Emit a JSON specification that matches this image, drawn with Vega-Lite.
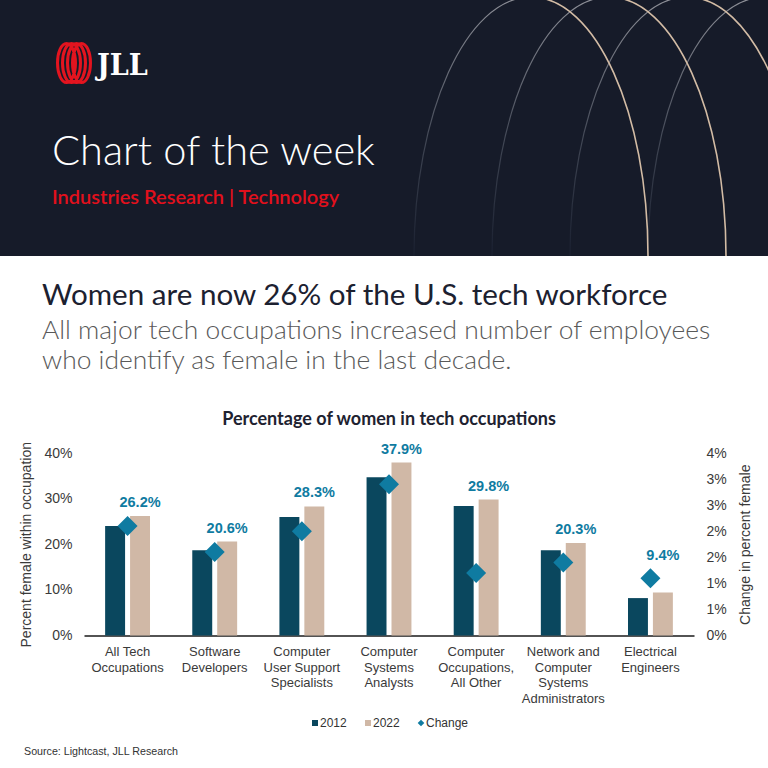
{
  "$schema": "https://vega.github.io/schema/vega-lite/v6.json",
  "padding": 0,
  "background": "#ffffff",
  "spacing": 0,
  "center": true,
  "bounds": "flush",
  "resolve": {"scale": {"color": "independent"}, "legend": {"color": "independent"}},
  "config": {
    "font": "Liberation Sans",
    "view": {"stroke": null},
    "axis": {
      "grid": false,
      "ticks": false,
      "tickSize": 0,
      "domain": false,
      "labelFont": "Liberation Sans",
      "labelFontSize": 14,
      "labelColor": "#3a3a3a",
      "titleFont": "Liberation Sans",
      "titleFontSize": 14,
      "titleFontWeight": "normal",
      "titleColor": "#3a3a3a"
    },
    "legend": {
      "layout": {"bottom": {"anchor": "middle"}}
    }
  },
  "vconcat": [
    {
      "width": 778,
      "height": 256,
      "view": {"fill": "#161b29", "stroke": null},
      "title": {
        "text": "Chart of the week",
        "subtitle": "Industries Research | Technology",
        "orient": "top",
        "anchor": "start",
        "frame": "group",
        "offset": -208,
        "dx": 52,
        "font": "Lato",
        "fontSize": 41.6,
        "fontWeight": 300,
        "color": "#ffffff",
        "subtitleFont": "Lato",
        "subtitleFontSize": 20,
        "subtitleFontWeight": 600,
        "subtitleColor": "#e2101c",
        "subtitlePadding": 14
      },
      "data": {"values": [{"brand": "JLL"}]},
      "layer": [
        {
          "mark": {
            "type": "point",
            "shape": "M25,128 A117,259 0 0 1 142,-131 M103,128 A117,259 0 0 1 220,-131 M181,128 A117,259 0 0 1 298,-131 M259,128 A117,259 0 0 1 376,-131",
            "size": 4,
            "filled": false,
            "opacity": 1,
            "strokeWidth": 1.2,
            "stroke": {
              "gradient": "linear",
              "x1": 0, "y1": 0, "x2": 0, "y2": 1,
              "stops": [
                {"offset": 0, "color": "#8e9098"},
                {"offset": 0.6, "color": "#3c4250"},
                {"offset": 1, "color": "#1a2030"}
              ]
            },
            "clip": true
          },
          "encoding": {}
        },
        {
          "mark": {
            "type": "point",
            "shape": "M142,-131 A117,259 0 0 1 259,128 M220,-131 A117,259 0 0 1 337,128 M298,-131 A117,259 0 0 1 415,128 M376,-131 A117,259 0 0 1 493,128",
            "size": 4,
            "filled": false,
            "opacity": 1,
            "strokeWidth": 1.6,
            "stroke": "#d3bca5",
            "clip": true
          },
          "encoding": {}
        },
        {
          "mark": {
            "type": "point",
            "shape": "M-331.5,-65 A9,19.5 0 1 0 -313.5,-65 A9,19.5 0 1 0 -331.5,-65 Z M-326.5,-65 A9,19.5 0 1 0 -308.5,-65 A9,19.5 0 1 0 -326.5,-65 Z M-321.5,-65 A9,19.5 0 1 0 -303.5,-65 A9,19.5 0 1 0 -321.5,-65 Z M-316.5,-65 A9,19.5 0 1 0 -298.5,-65 A9,19.5 0 1 0 -316.5,-65 Z",
            "size": 4,
            "filled": false,
            "opacity": 1,
            "strokeWidth": 3,
            "stroke": "#e3141f"
          },
          "encoding": {}
        },
        {
          "mark": {
            "type": "text",
            "align": "left",
            "baseline": "alphabetic",
            "dx": -292,
            "dy": -53,
            "font": "DejaVu Serif Condensed",
            "fontWeight": "bold",
            "fontSize": 30,
            "color": "#ffffff"
          },
          "encoding": {"text": {"field": "brand"}}
        }
      ]
    },
    {
      "width": 778,
      "height": 197,
      "title": {
        "text": "Women are now 26% of the U.S. tech workforce",
        "subtitle": [
          "All major tech occupations increased number of employees",
          "who identify as female in the last decade."
        ],
        "orient": "top",
        "anchor": "start",
        "frame": "group",
        "dx": 42,
        "offset": -119,
        "font": "Lato",
        "fontSize": 29.6,
        "fontWeight": "normal",
        "color": "#1c2130",
        "subtitleFont": "Lato",
        "subtitleFontSize": 26.4,
        "subtitleFontWeight": 300,
        "subtitleColor": "#595959",
        "subtitlePadding": 6,
        "subtitleLineHeight": 30
      },
      "data": {"values": []},
      "mark": "text",
      "encoding": {}
    },
    {
      "title": {
        "text": "Percentage of women in tech occupations",
        "font": "Lato",
        "fontSize": 18,
        "fontWeight": "bold",
        "color": "#1e2230",
        "offset": 13
      },
      "width": 610,
      "height": 182.5,
      "data": {
        "values": [
          {"occupation": "All Tech Occupations", "2012": 0.240, "2022": 0.262, "Change": 0.021},
          {"occupation": "Software Developers", "2012": 0.187, "2022": 0.206, "Change": 0.016},
          {"occupation": "Computer User Support Specialists", "2012": 0.260, "2022": 0.283, "Change": 0.020},
          {"occupation": "Computer Systems Analysts", "2012": 0.347, "2022": 0.379, "Change": 0.029},
          {"occupation": "Computer Occupations, All Other", "2012": 0.284, "2022": 0.298, "Change": 0.012},
          {"occupation": "Network and Computer Systems Administrators", "2012": 0.187, "2022": 0.203, "Change": 0.014},
          {"occupation": "Electrical Engineers", "2012": 0.082, "2022": 0.094, "Change": 0.011}
        ]
      },
      "layer": [
        {
          "transform": [{"fold": ["2012", "2022"], "as": ["year", "share"]}],
          "mark": {"type": "bar"},
          "encoding": {
            "x": {
              "field": "occupation",
              "type": "nominal",
              "sort": null,
              "scale": {"paddingInner": 0.485, "paddingOuter": 0.2425},
              "axis": {
                "title": null,
                "labelAngle": 0,
                "domain": true,
                "domainColor": "#1a1a1a",
                "domainWidth": 1.3,
                "labelPadding": 10,
                "labelFontSize": 13,
                "labelLineHeight": 15.5,
                "labelExpr": "datum.label == 'All Tech Occupations' ? ['All Tech', 'Occupations'] : datum.label == 'Software Developers' ? ['Software', 'Developers'] : datum.label == 'Computer User Support Specialists' ? ['Computer', 'User Support', 'Specialists'] : datum.label == 'Computer Systems Analysts' ? ['Computer', 'Systems', 'Analysts'] : datum.label == 'Computer Occupations, All Other' ? ['Computer', 'Occupations,', 'All Other'] : datum.label == 'Network and Computer Systems Administrators' ? ['Network and', 'Computer', 'Systems', 'Administrators'] : ['Electrical', 'Engineers']"
              }
            },
            "xOffset": {
              "field": "year",
              "type": "nominal",
              "scale": {"domain": ["2012", "2022"], "paddingInner": 0.2}
            },
            "y": {
              "field": "share",
              "type": "quantitative",
              "scale": {"domain": [0, 0.4], "nice": false},
              "axis": {
                "values": [0, 0.1, 0.2, 0.3, 0.4],
                "format": ".0%",
                "title": "Percent female within occupation",
                "labelPadding": 12,
                "titlePadding": 10
              }
            },
            "color": {
              "field": "year",
              "type": "nominal",
              "scale": {
                "domain": ["2012", "2022", "Change"],
                "range": ["#0a475e", "#d0b8a6", "#0f7ba1"]
              },
              "legend": {
                "orient": "bottom",
                "direction": "horizontal",
                "title": null,
                "offset": 12,
                "labelFont": "Liberation Sans",
                "labelFontSize": 12,
                "labelColor": "#333333",
                "labelOffset": -1,
                "columnPadding": 15,
                "symbolSize": 36,
                "symbolType": "square",
                "symbolStrokeWidth": 0,
                "encode": {
                  "symbols": {
                    "update": {
                      "shape": {"signal": "datum.value === 'Change' ? 'diamond' : 'square'"},
                      "size": {"signal": "datum.value === 'Change' ? 44 : 36"}
                    }
                  }
                }
              }
            }
          }
        },
        {
          "mark": {"type": "point", "shape": "diamond", "filled": true, "size": 400, "opacity": 1, "strokeWidth": 0},
          "encoding": {
            "x": {"field": "occupation", "type": "nominal", "sort": null},
            "y": {
              "field": "Change",
              "type": "quantitative",
              "scale": {"domain": [0, 0.035], "nice": false},
              "axis": {
                "orient": "right",
                "values": [0, 0.005, 0.01, 0.015, 0.02, 0.025, 0.03, 0.035],
                "format": ".0%",
                "title": "Change in percent female",
                "titleAngle": 270,
                "titleBaseline": "top",
                "labelPadding": 12,
                "titlePadding": 12
              }
            },
            "color": {"datum": "Change"}
          }
        },
        {
          "transform": [
            {"filter": "datum['Change'] / 0.035 <= datum['2022'] / 0.4"},
            {"fold": ["2022"], "as": ["year", "share"]}
          ],
          "mark": {"type": "text", "baseline": "alphabetic", "dy": -9, "font": "Liberation Sans", "fontWeight": "bold", "fontSize": 14.5, "color": "#0f7ba1"},
          "encoding": {
            "x": {"field": "occupation", "type": "nominal", "sort": null},
            "xOffset": {"field": "year", "type": "nominal"},
            "y": {"field": "share", "type": "quantitative", "scale": {"domain": [0, 0.4], "nice": false}, "axis": null},
            "text": {"field": "share", "type": "quantitative", "format": ".1%"}
          }
        },
        {
          "transform": [
            {"filter": "datum['Change'] / 0.035 > datum['2022'] / 0.4"},
            {"fold": ["2022"], "as": ["year", "share"]}
          ],
          "mark": {"type": "text", "baseline": "alphabetic", "dy": -18, "font": "Liberation Sans", "fontWeight": "bold", "fontSize": 14.5, "color": "#0f7ba1"},
          "encoding": {
            "x": {"field": "occupation", "type": "nominal", "sort": null},
            "xOffset": {"field": "year", "type": "nominal"},
            "y": {"field": "Change", "type": "quantitative", "scale": {"domain": [0, 0.035], "nice": false}, "axis": null},
            "text": {"field": "share", "type": "quantitative", "format": ".1%"}
          }
        }
      ],
      "resolve": {"scale": {"y": "independent"}}
    },
    {
      "width": 778,
      "height": 1,
      "title": {
        "text": "Source: Lightcast, JLL Research",
        "orient": "bottom",
        "anchor": "start",
        "frame": "group",
        "offset": 110,
        "dx": 24,
        "font": "Liberation Sans",
        "fontSize": 10.7,
        "fontWeight": "normal",
        "color": "#333333"
      },
      "data": {"values": []},
      "mark": "text",
      "encoding": {}
    }
  ]
}
